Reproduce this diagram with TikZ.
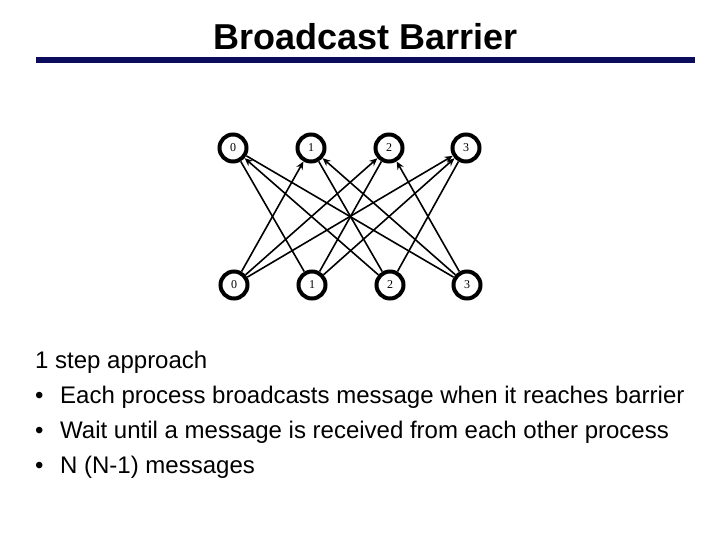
\documentclass[tikz,border=0pt]{standalone}
\usepackage{fontspec}
\setmainfont{Liberation Sans}
\newfontfamily\numfont{Liberation Serif}
\usetikzlibrary{arrows.meta}
\definecolor{navy}{RGB}{12,12,92}
\begin{document}
\begin{tikzpicture}[x=1pt,y=-1pt,
  proc/.style={circle,draw=black,line width=4pt,minimum size=27pt,inner sep=0pt,outer sep=2pt,font=\numfont\fontsize{12}{14}\selectfont},
  edge/.style={line width=1.6pt},
  arr/.style={edge,-{Stealth[length=8pt,width=7pt]}},
  body/.style={anchor=base west,font=\fontsize{24}{28}\selectfont,inner sep=0pt}]
\useasboundingbox (0,0) rectangle (720,540);
\node[font=\bfseries\fontsize{36}{40}\selectfont,inner sep=0pt,anchor=base] (title) at (366,50) {Broadcast Barrier};
\fill[navy] (36,57) rectangle (695,63);
\foreach \i/\x in {0/233,1/311,2/389,3/466}{
  \node[proc] (t\i) at (\x,148) {\i};
  \node[proc] (b\i) at (\x+1,285) {\i};
}
\draw[arr] (b0) -- (t1);
\draw[arr] (b0) -- (t2);
\draw[arr] (b0) -- (t3);
\draw[edge] (b1) -- (t0);
\draw[edge] (b1) -- (t2);
\draw[arr] (b1) -- (t3);
\draw[arr] (b2) -- (t0);
\draw[edge] (b2) -- (t1);
\draw[edge] (b2) -- (t3);
\draw[edge] (b3) -- (t0);
\draw[arr] (b3) -- (t1);
\draw[arr] (b3) -- (t2);
\node[body] (l0) at (35,368) {1 step approach};
\node[body] (d1) at (35,403) {•};
\node[body] (l1) at (60,403) {Each process broadcasts message when it reaches barrier};
\node[body] (d2) at (35,438) {•};
\node[body] (l2) at (60,438) {Wait until a message is received from each other process};
\node[body] (d3) at (35,473) {•};
\node[body] (l3) at (60,473) {N (N-1) messages};
\end{tikzpicture}
\end{document}
